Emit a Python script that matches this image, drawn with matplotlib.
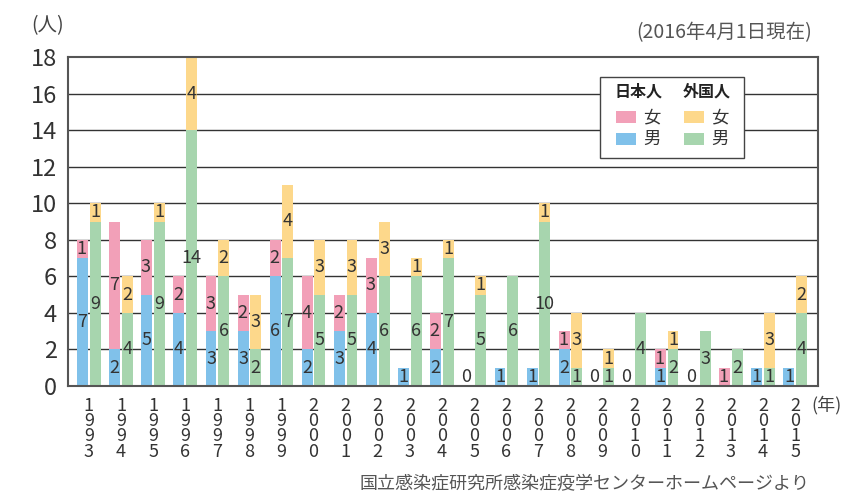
import matplotlib
matplotlib.use("Agg")
import matplotlib.pyplot as plt
from matplotlib.patches import Rectangle
import numpy as np

plt.rcParams["font.family"] = ["Noto Sans CJK JP", "DejaVu Sans"]

# -------------------------------
# data (人)
# -------------------------------
years = ["1993", "1994", "1995", "1996", "1997", "1998", "1999", "2000",
         "2001", "2002", "2003", "2004", "2005", "2006", "2007", "2008",
         "2009", "2010", "2011", "2012", "2013", "2014", "2015"]
jp_male = [7, 2, 5, 4, 3, 3, 6, 2, 3, 4, 1, 2, 0, 1, 1, 2, 0, 0, 1, 0, 0, 1, 1]
jp_female = [1, 7, 3, 2, 3, 2, 2, 4, 2, 3, 0, 2, 0, 0, 0, 1, 0, 0, 1, 0, 1, 0, 0]
fo_male = [9, 4, 9, 14, 6, 2, 7, 5, 5, 6, 6, 7, 5, 6, 9, 1, 1, 4, 2, 3, 2, 1, 4]
fo_female = [1, 2, 1, 4, 2, 3, 4, 3, 3, 3, 1, 1, 1, 0, 1, 3, 1, 0, 1, 0, 0, 3, 2]
# label printed in the source differs from bar height for 2007
fo_male_text = {"2007": "10"}

c_blue = "#80c1ea"
c_pink = "#f2a0b8"
c_orange = "#fdd88b"
c_green = "#a7d5ae"
txt = "#333333"

fig = plt.figure(figsize=(8.53, 4.96), dpi=100)
ax = fig.add_axes([68 / 853, 1 - 386 / 496, 750 / 853, 329 / 496])

x = np.arange(len(years))
w = 0.34
off = 0.195

ax.bar(x - off, jp_male, w, color=c_blue, zorder=2)
ax.bar(x - off, jp_female, w, bottom=jp_male, color=c_pink, zorder=2)
ax.bar(x + off, fo_male, w, color=c_green, zorder=2)
ax.bar(x + off, fo_female, w, bottom=fo_male, color=c_orange, zorder=2)

fs = 13
for i, yr in enumerate(years):
    # Japanese
    if jp_male[i] + jp_female[i] == 0:
        ax.text(x[i] - off - 0.06, 0.5, "0", ha="center", va="center", fontsize=fs, color=txt, zorder=3)
    if jp_male[i] > 0:
        ax.text(x[i] - off, jp_male[i] / 2, str(jp_male[i]), ha="center", va="center",
                fontsize=fs, color=txt, zorder=3)
    if jp_female[i] > 0:
        ax.text(x[i] - off - 0.03, jp_male[i] + jp_female[i] / 2, str(jp_female[i]), ha="center",
                va="center", fontsize=fs, color=txt, zorder=3)
    # foreign
    if fo_male[i] > 0:
        ax.text(x[i] + off, fo_male[i] / 2, fo_male_text.get(yr, str(fo_male[i])), ha="center",
                va="center", fontsize=fs, color=txt, zorder=3)
    if fo_female[i] > 0:
        ax.text(x[i] + off, fo_male[i] + fo_female[i] / 2, str(fo_female[i]), ha="center",
                va="center", fontsize=fs, color=txt, zorder=3)
    # vertical year label
    ax.text(x[i], -0.6, "\n".join(yr), ha="center", va="top", fontsize=13,
            color=txt, linespacing=0.8, clip_on=False)

ax.set_xlim(-0.65, 22.71)
ax.set_ylim(0, 18)
ax.set_yticks(range(0, 19, 2))
ax.set_xticks([])
ax.tick_params(axis="y", length=0, pad=8, labelsize=17, labelcolor=txt)
for s in ax.spines.values():
    s.set_color("#555555")
    s.set_linewidth(1.5)
for v in range(2, 18, 2):
    ax.axhline(v, color="#333333", lw=1, zorder=1)

# -------------------------------
# texts around the chart
# -------------------------------
def fx(px):
    return px / 853

def fy(py):
    return 1 - py / 496

fig.text(fx(48), fy(26), "(人)", ha="center", va="center", fontsize=14, color="#444444")
fig.text(fx(812), fy(33), "(2016年4月1日現在)", ha="right", va="center", fontsize=14, color="#555555")
fig.text(fx(811), fy(405), "(年)", ha="left", va="center", fontsize=13, color="#444444")
fig.text(fx(810), fy(484), "国立感染症研究所感染症疫学センターホームページより", ha="right",
         va="center", fontsize=13, color="#555555")

# -------------------------------
# legend box
# -------------------------------
fig.add_artist(Rectangle((fx(600), fy(158)), fx(144), 81 / 496, transform=fig.transFigure,
                         facecolor="white", edgecolor="#444444", lw=1, zorder=4))
fig.text(fx(639), fy(92), "日本人", ha="center", va="center", fontsize=11.5,
         fontweight="bold", color="#222222", zorder=5)
fig.text(fx(707), fy(92), "外国人", ha="center", va="center", fontsize=11.5,
         fontweight="bold", color="#222222", zorder=5)
legend_rows = [(117, c_pink, c_orange, "女"), (139, c_blue, c_green, "男")]
for py, ca, cb, lab in legend_rows:
    for sx, col in [(616, ca), (684, cb)]:
        fig.add_artist(Rectangle((fx(sx), fy(py + 6)), fx(20), 12 / 496, transform=fig.transFigure,
                                 facecolor=col, edgecolor="none", zorder=5))
        fig.text(fx(sx + 27), fy(py), lab, ha="left", va="center", fontsize=12.5,
                 color="#333333", zorder=5)

fig.savefig("out.png", dpi=100)
